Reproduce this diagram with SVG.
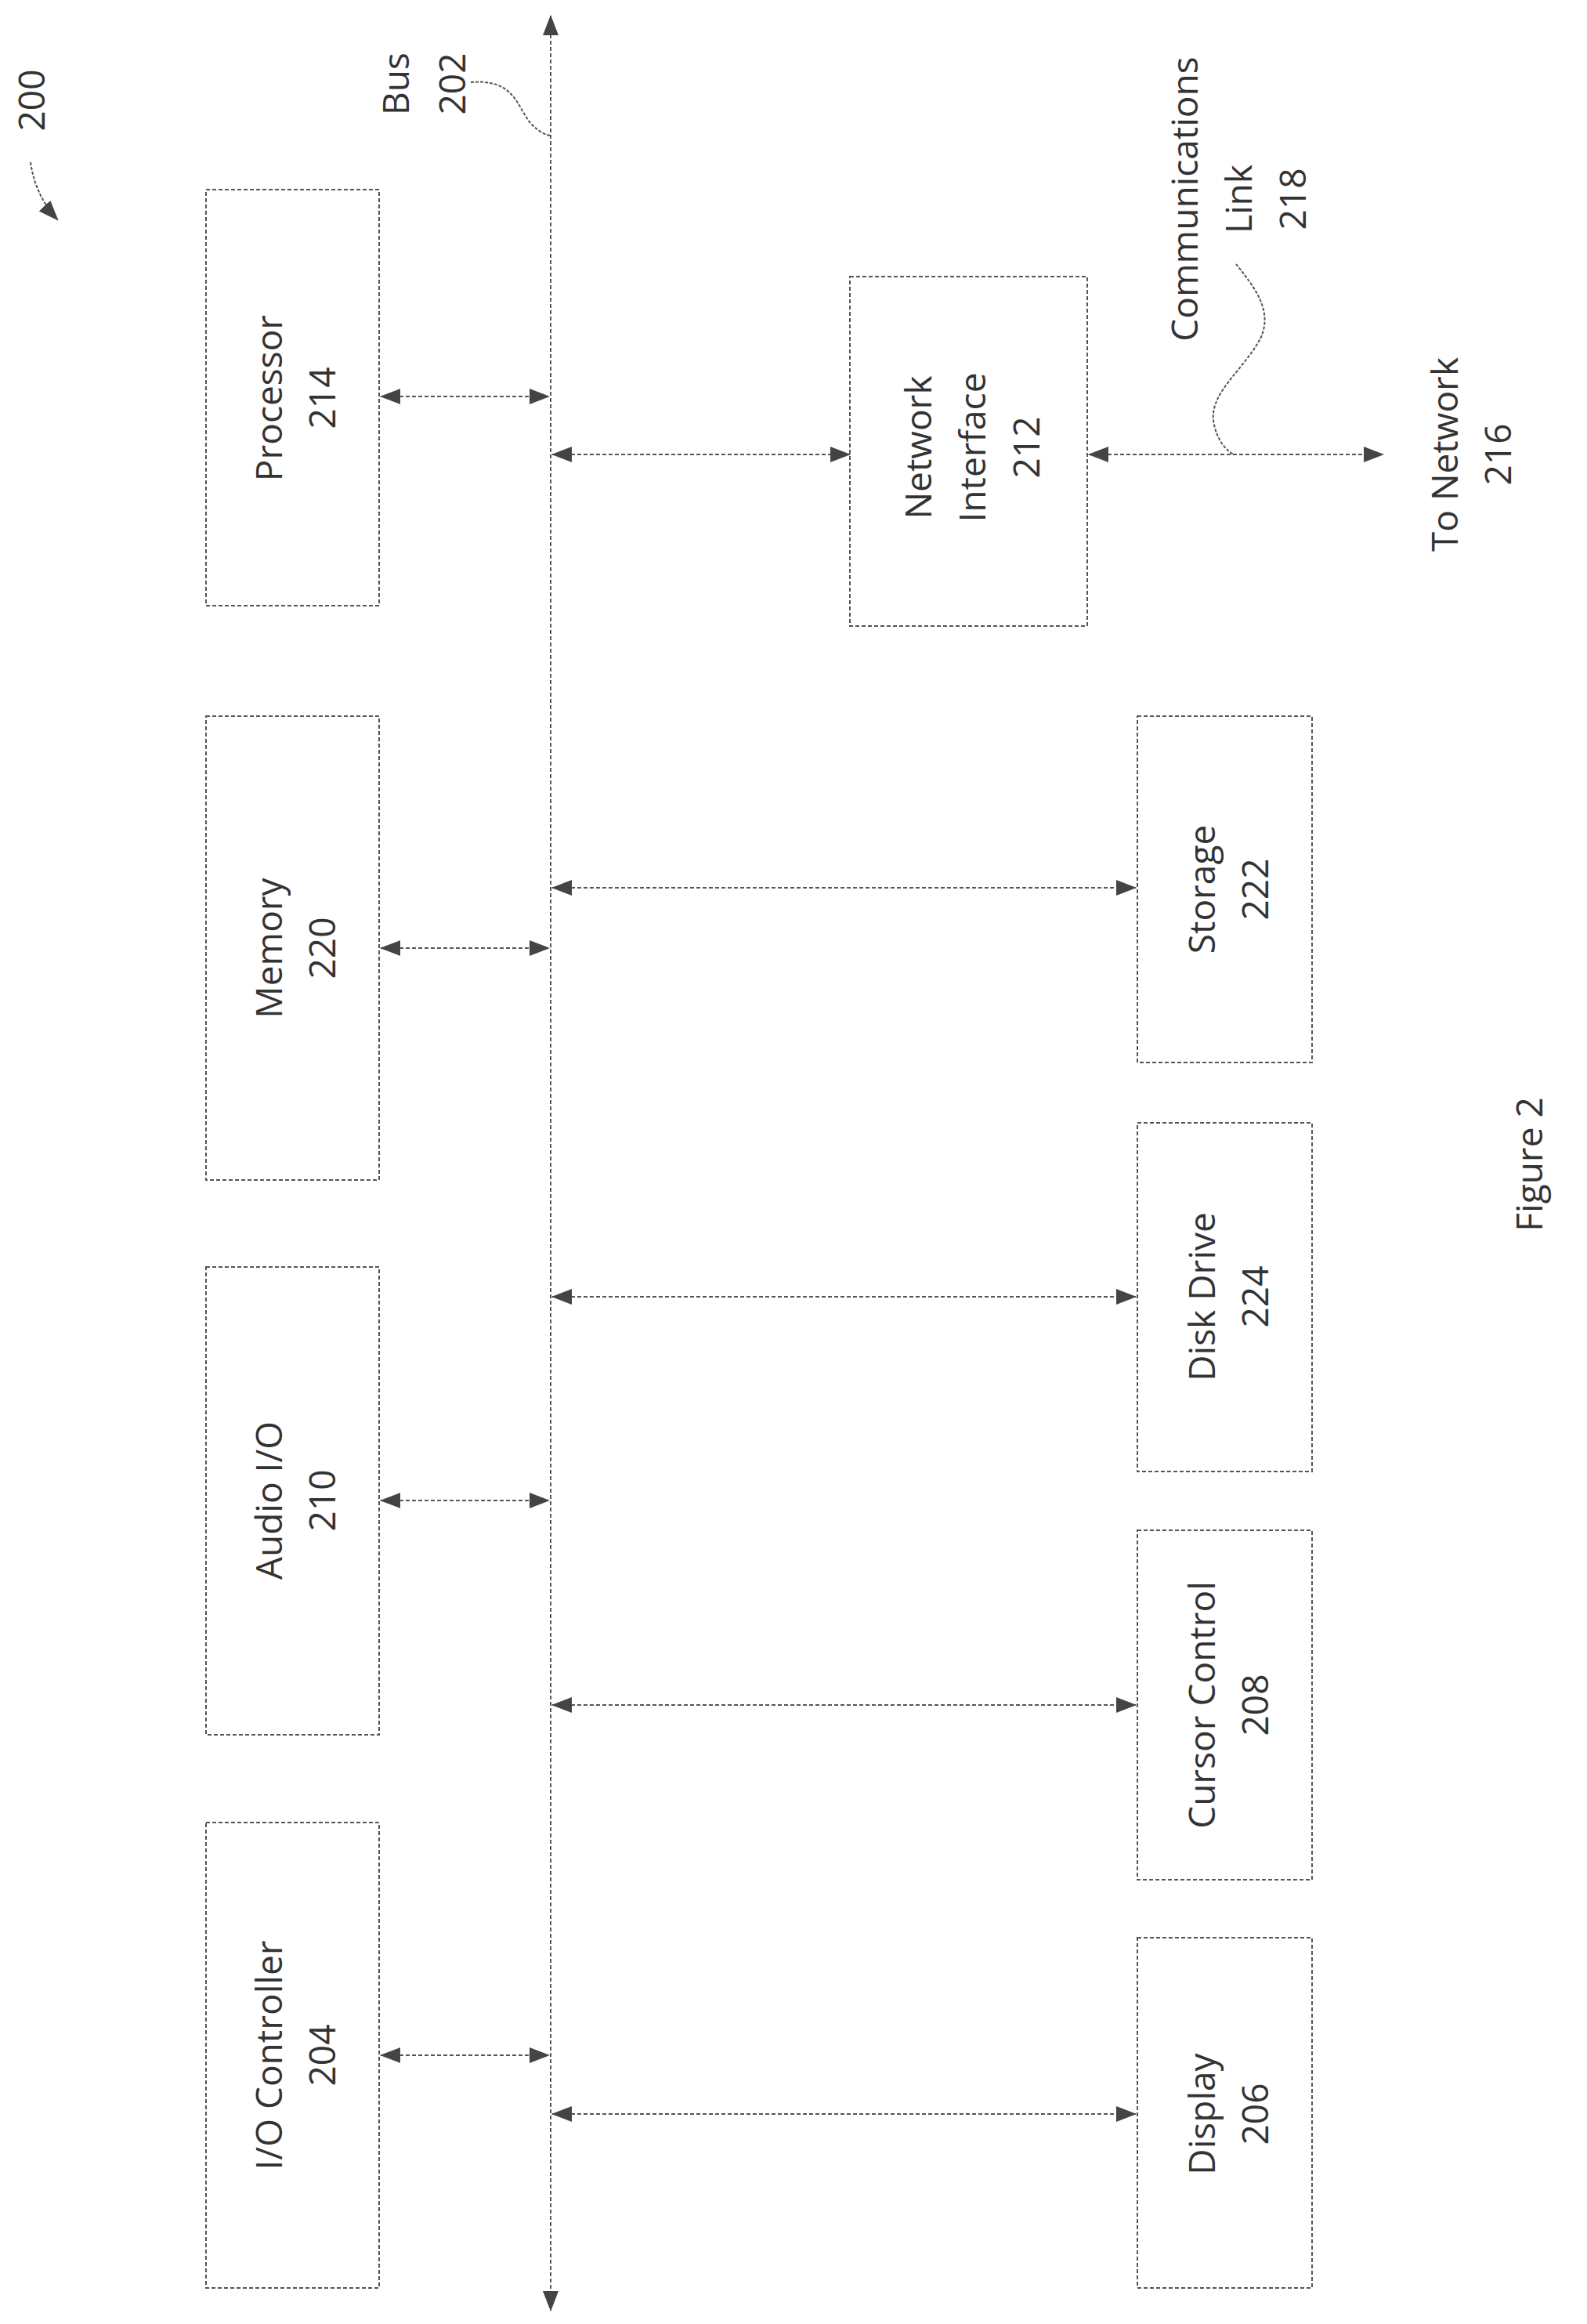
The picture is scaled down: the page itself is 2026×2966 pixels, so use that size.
<svg xmlns="http://www.w3.org/2000/svg" width="2026" height="2966" viewBox="0 0 2026 2966">
<style>
.box{fill:none;stroke:#555;stroke-width:2;stroke-dasharray:5 3}
.ln{fill:none;stroke:#555;stroke-width:2;stroke-dasharray:5 3}
.ld{fill:none;stroke:#555;stroke-width:2;stroke-dasharray:4 2}
text{font-family:"Open Sans","Liberation Sans",sans-serif;font-size:46px;fill:#333;text-anchor:middle;dominant-baseline:central}
</style>
<defs>
<marker id="ah" markerUnits="userSpaceOnUse" markerWidth="26" markerHeight="22" viewBox="0 0 26 22" refX="25" refY="11" orient="auto-start-reverse">
<path d="M0,1 L26,11 L0,21 Z" fill="#444"/>
</marker>
</defs>
<rect width="2026" height="2966" fill="#fff"/>
<g id="connectors">
<line class="ln" x1="703" y1="20" x2="703" y2="2949" marker-start="url(#ah)" marker-end="url(#ah)"/>
<line class="ln" x1="486" y1="506" x2="701" y2="506" marker-start="url(#ah)" marker-end="url(#ah)"/>
<line class="ln" x1="486" y1="1210" x2="701" y2="1210" marker-start="url(#ah)" marker-end="url(#ah)"/>
<line class="ln" x1="486" y1="1915" x2="701" y2="1915" marker-start="url(#ah)" marker-end="url(#ah)"/>
<line class="ln" x1="486" y1="2623" x2="701" y2="2623" marker-start="url(#ah)" marker-end="url(#ah)"/>
<line class="ln" x1="705" y1="580" x2="1085" y2="580" marker-start="url(#ah)" marker-end="url(#ah)"/>
<line class="ln" x1="705" y1="1133" x2="1450" y2="1133" marker-start="url(#ah)" marker-end="url(#ah)"/>
<line class="ln" x1="705" y1="1655" x2="1450" y2="1655" marker-start="url(#ah)" marker-end="url(#ah)"/>
<line class="ln" x1="705" y1="2176" x2="1450" y2="2176" marker-start="url(#ah)" marker-end="url(#ah)"/>
<line class="ln" x1="705" y1="2698" x2="1450" y2="2698" marker-start="url(#ah)" marker-end="url(#ah)"/>
<line class="ln" x1="1390" y1="580" x2="1766" y2="580" marker-start="url(#ah)" marker-end="url(#ah)"/>
<path class="ld" d="M39,207 Q45,250 74,281" marker-end="url(#ah)"/>
<path class="ld" d="M601,105 C660,100 660,140 680,160 C690,170 700,173 703,173"/>
<path class="ld" d="M1578,337 C1600,365 1625,395 1610,430 C1590,470 1545,500 1549,536 C1552,560 1565,575 1575,580"/>
</g>
<g id="label-200"><text transform="translate(39,128) rotate(-90)">200</text></g>
<g id="label-bus"><text transform="translate(540,107) rotate(-90)"><tspan x="0" y="-36">Bus</tspan><tspan x="0" y="36">202</tspan></text></g>
<g id="processor"><rect class="box" x="263" y="242" width="221" height="531"/><text transform="translate(376,508) rotate(-90)"><tspan x="0" y="-34">Processor</tspan><tspan x="0" y="34">214</tspan></text></g>
<g id="memory"><rect class="box" x="263" y="914" width="221" height="592"/><text transform="translate(376,1210) rotate(-90)"><tspan x="0" y="-34">Memory</tspan><tspan x="0" y="34">220</tspan></text></g>
<g id="audio"><rect class="box" x="263" y="1617" width="221" height="597"/><text transform="translate(376,1915) rotate(-90)"><tspan x="0" y="-34">Audio I/O</tspan><tspan x="0" y="34">210</tspan></text></g>
<g id="io-controller"><rect class="box" x="263" y="2326" width="221" height="594"/><text transform="translate(376,2623) rotate(-90)"><tspan x="0" y="-34">I/O Controller</tspan><tspan x="0" y="34">204</tspan></text></g>
<g id="network-interface"><rect class="box" x="1085" y="353" width="303" height="446"/><text transform="translate(1240,571) rotate(-90)"><tspan x="0" y="-69">Network</tspan><tspan x="0" y="0">Interface</tspan><tspan x="0" y="69">212</tspan></text></g>
<g id="storage"><rect class="box" x="1452" y="914" width="223" height="442"/><text transform="translate(1567,1135) rotate(-90)"><tspan x="0" y="-34">Storage</tspan><tspan x="0" y="34">222</tspan></text></g>
<g id="disk-drive"><rect class="box" x="1452" y="1433" width="223" height="445"/><text transform="translate(1567,1655) rotate(-90)"><tspan x="0" y="-34">Disk Drive</tspan><tspan x="0" y="34">224</tspan></text></g>
<g id="cursor-control"><rect class="box" x="1452" y="1953" width="223" height="446"/><text transform="translate(1567,2176) rotate(-90)"><tspan x="0" y="-34">Cursor Control</tspan><tspan x="0" y="34">208</tspan></text></g>
<g id="display"><rect class="box" x="1452" y="2473" width="223" height="447"/><text transform="translate(1567,2698) rotate(-90)"><tspan x="0" y="-34">Display</tspan><tspan x="0" y="34">206</tspan></text></g>
<g id="comm-link"><text transform="translate(1580,254) rotate(-90)"><tspan x="0" y="-69">Communications</tspan><tspan x="0" y="0">Link</tspan><tspan x="0" y="69">218</tspan></text></g>
<g id="to-network"><text transform="translate(1877,580) rotate(-90)"><tspan x="0" y="-34">To Network</tspan><tspan x="0" y="34">216</tspan></text></g>
<g id="figure-label"><text transform="translate(1951,1486) rotate(-90)">Figure 2</text></g>
</svg>
